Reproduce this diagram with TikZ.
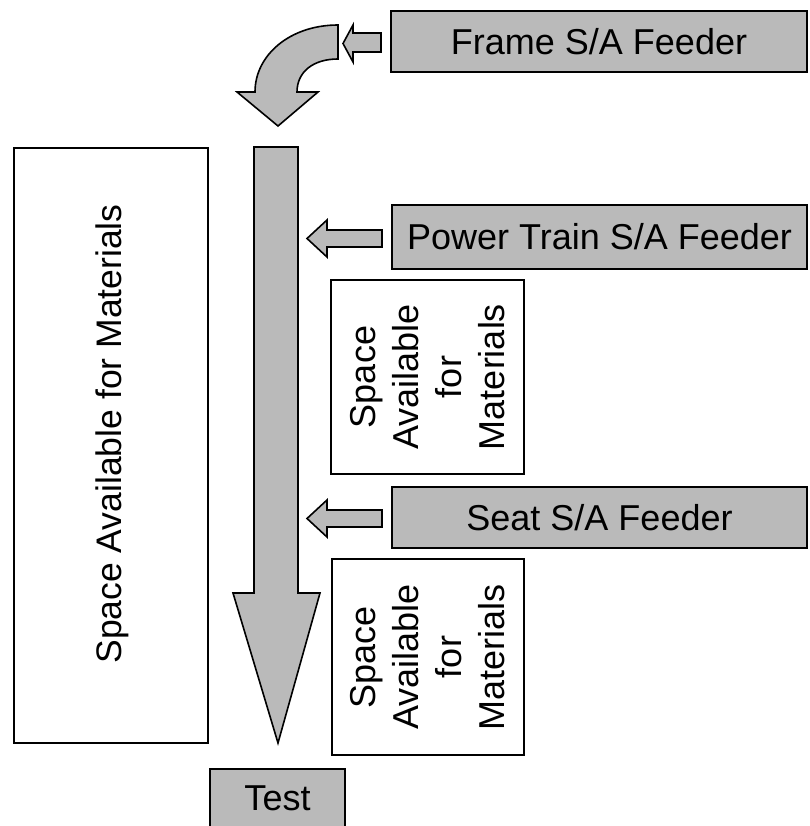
\documentclass[tikz,border=0pt]{standalone}
\usepackage{fontspec}
\setmainfont{Liberation Sans}
\begin{document}
\begin{tikzpicture}[x=1pt,y=-1pt,
  shade fill/.style={fill=black!27},
  outline/.style={draw=black,line width=1.6pt,line join=miter},
  feeder/.style={shade fill,outline,inner sep=0pt,minimum height=61pt,
    font=\fontsize{36}{42}\selectfont},
  spacebox/.style={outline,fill=white,inner sep=0pt,
    font=\fontsize{36}{43}\selectfont},
  block arrow/.style={shade fill,outline}]
  \useasboundingbox (0,0) rectangle (809,826);
  \clip (0,0) rectangle (809,826);

  % material space along the line
  \draw[spacebox] (14,148) rectangle (208,743);
  \node[rotate=90,font=\fontsize{35.5}{43}\selectfont] (bigspace) at (112,434)
    {Space Available for Materials};
  \node[spacebox,minimum width=193pt,minimum height=194pt] (space1) at (427.5,377) {};
  \node[rotate=90,align=center,font=\fontsize{36}{43}\selectfont] (space1txt) at (space1)
    {Space\\Available\\for\\Materials};
  \node[spacebox,minimum width=192pt,minimum height=196pt] (space2) at (428,657) {};
  \node[rotate=90,align=center,font=\fontsize{36}{43}\selectfont] (space2txt) at (space2)
    {Space\\Available\\for\\Materials};

  % feeder stations
  \node[feeder,minimum width=416pt] (frame) at (599,41.5) {Frame S/A Feeder};
  \node[feeder,minimum width=415pt,minimum height=64pt] (power) at (599.5,237) {Power Train S/A Feeder};
  \node[feeder,minimum width=415pt] (seat) at (599.5,517.5) {Seat S/A Feeder};

  % test station at the end of the line
  \node[shade fill,outline,anchor=north,minimum width=135pt,inner ysep=0pt,
    text height=42pt,text depth=40pt,font=\fontsize{36}{42}\selectfont]
    (test) at (277.5,768) {Test};

  % main flow arrow
  \draw[block arrow] (254,147) -- (298,147) -- (298,593) -- (320,593)
    -- (278,743) -- (233,593) -- (254,593) -- cycle;

  % curved arrow from the frame feeder onto the line
  \draw[block arrow] (338,25) .. controls (290,25) and (255,55) .. (255,92)
    -- (237,92) -- (278,126) -- (318,92) -- (297,92)
    .. controls (297,72) and (313,59) .. (338,59) -- cycle;

  % feed arrows
  \draw[block arrow] (381,33) -- (353,33) -- (353,25) -- (343,43.5)
    -- (353,62) -- (353,52) -- (381,52) -- cycle;
  \draw[block arrow] (382,230) -- (327,230) -- (327,220) -- (307,238.5)
    -- (327,257) -- (327,247) -- (382,247) -- cycle;
  \draw[block arrow] (382,510) -- (327,510) -- (327,500) -- (307,518.5)
    -- (327,537) -- (327,527) -- (382,527) -- cycle;
\end{tikzpicture}
\end{document}
